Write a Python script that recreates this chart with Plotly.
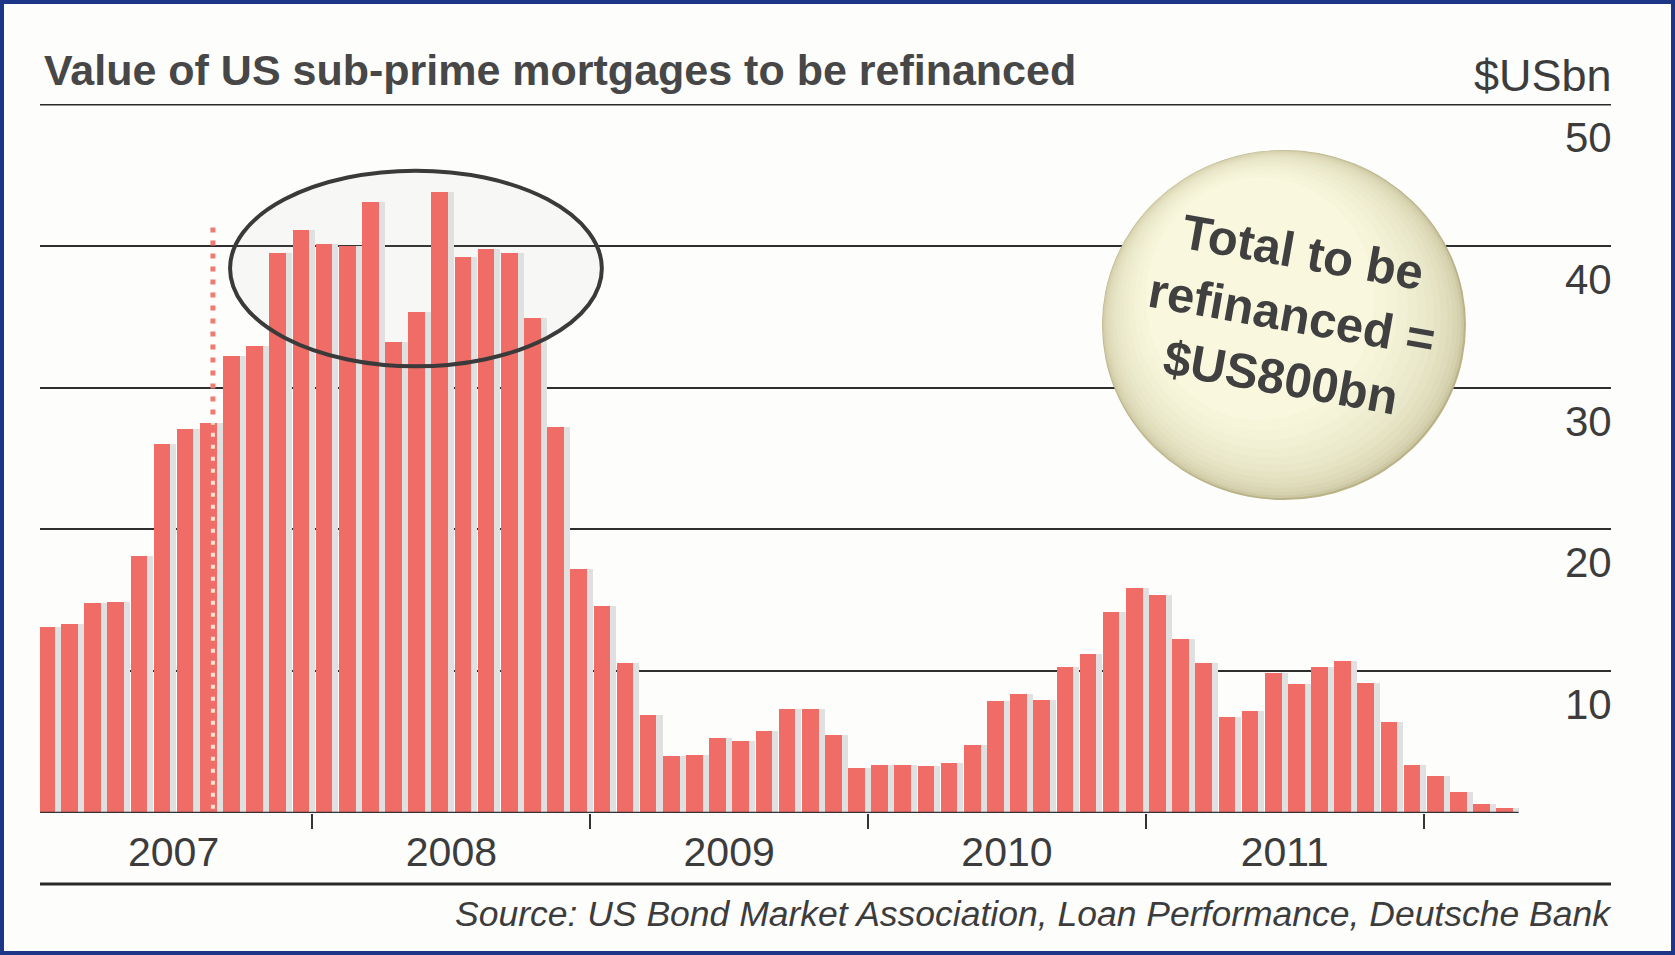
import plotly.graph_objects as go

# monthly values, $US bn (Jan 2007 - Apr 2012)
values_2007 = [13.1, 13.3, 14.8, 14.9, 18.1, 26.0, 27.1, 27.5, 32.2, 32.9, 39.5, 41.1]
values_2008 = [40.1, 40.0, 43.1, 33.2, 35.3, 43.8, 39.2, 39.8, 39.5, 34.9, 27.2, 17.2]
values_2009 = [14.6, 10.6, 6.9, 4.0, 4.1, 5.3, 5.1, 5.75, 7.3, 7.3, 5.5, 3.2]
values_2010 = [3.4, 3.4, 3.3, 3.5, 4.8, 7.9, 8.4, 8.0, 10.3, 11.2, 14.2, 15.9]
values_2011 = [15.4, 12.3, 10.6, 6.8, 7.2, 9.9, 9.1, 10.3, 10.7, 9.2, 6.4, 3.4]
values_2012 = [2.6, 1.5, 0.6, 0.35]
monthly = values_2007 + values_2008 + values_2009 + values_2010 + values_2011 + values_2012

years = ['2007', '2008', '2009', '2010', '2011']
y_ticks = [10, 20, 30, 40, 50]

title_text = 'Value of US sub-prime mortgages to be refinanced'
unit_text = '$USbn'
source_text = 'Source: US Bond Market Association, Loan Performance, Deutsche Bank'
badge_text = 'Total to be<br>refinanced =<br>$US800bn'

# page geometry
W, H = 1675, 955
L, R, T, B = 40, 64, 104, 142
PW, PH = W - L - R, H - T - B
step = 23.15  # px per month
x_lo = -0.27
x_hi = x_lo + PW / step

FONT = 'Liberation Sans, Arial, sans-serif'
INK = '#3c3c3c'
BAR = '#f06c66'


def pxx(x):
    return (x - L) / PW


def pyy(y):
    return (H - B - y) / PH


xs = list(range(len(monthly)))
year_centers = [i * 12 + 5.5 for i in range(len(years))]
year_bounds = [i * 12 + 11.5 for i in range(len(years))]

fig = go.Figure()
# halftone shadow to the right of each bar
fig.add_trace(go.Bar(x=xs, y=monthly, width=0.72, offset=-0.36 + 0.26,
                     marker=dict(color='#e0e0e0', line_width=0), hoverinfo='skip'))
fig.add_trace(go.Bar(x=xs, y=monthly, width=0.72, offset=-0.36,
                     marker=dict(color=BAR, line_width=0)))

shapes = []
# top rule and bottom rule
shapes.append(dict(type='line', xref='paper', yref='y', x0=0, x1=1, y0=50, y1=50,
                   line=dict(color='#2a2a2a', width=3)))
shapes.append(dict(type='line', xref='paper', yref='paper', x0=0, x1=1, y0=pyy(884), y1=pyy(884),
                   line=dict(color='#2a2a2a', width=3)))
# baseline under bars
shapes.append(dict(type='line', xref='x', yref='y', x0=x_lo, x1=len(monthly) - 0.4, y0=0, y1=0,
                   line=dict(color='#333333', width=2.5), layer='above'))
# hand-drawn ellipse around the 2007-08 peak
shapes.append(dict(type='circle', xref='x', yref='y', x0=7.94, x1=24.0, y0=31.5, y1=45.3,
                   fillcolor='rgba(170,170,170,0.07)', line_width=0, layer='between'))
shapes.append(dict(type='circle', xref='x', yref='y', x0=7.94, x1=24.0, y0=31.5, y1=45.3,
                   line=dict(color='#3a3a3a', width=4), layer='above'))
# dotted marker line through Aug 2007
dot_x = 7.2
shapes.append(dict(type='line', xref='x', yref='y', x0=dot_x, x1=dot_x, y0=0.3, y1=monthly[7],
                   line=dict(color='#fbe3cf', width=4, dash='4px,8px'), layer='above'))
shapes.append(dict(type='line', xref='x', yref='y', x0=dot_x, x1=dot_x, y0=monthly[7] + 0.6, y1=41.4,
                   line=dict(color='#f07b70', width=5, dash='5px,8px'), layer='above'))

# badge: stacked discs to fake a radial shading
rim = (186, 179, 136)
core = (249, 248, 222)
n = 14
for i in range(n):
    t = i / (n - 1)
    col = tuple(int(rim[k] + (core[k] - rim[k]) * (t ** 0.45)) for k in range(3))
    x0 = 1102 + 4 * t + 40 * t * t
    x1 = 1466 - 22 * t - 70 * t * t
    y0 = 150 + 2 * t + 25 * t * t
    y1 = 500 - 20 * t - 60 * t * t
    shapes.append(dict(type='circle', xref='paper', yref='paper',
                       x0=pxx(x0), x1=pxx(x1), y0=pyy(y1), y1=pyy(y0),
                       fillcolor='rgb(%d,%d,%d)' % col, line_width=0, layer='above'))

# blue frame of the slide
shapes.append(dict(type='rect', xref='paper', yref='paper',
                   x0=pxx(2), x1=pxx(W - 2), y0=pyy(H - 2), y1=pyy(2),
                   line=dict(color='#1d3688', width=4), layer='above'))

annotations = []
annotations.append(dict(text=title_text, xref='paper', yref='paper', x=pxx(42), y=pyy(70),
                        xanchor='left', yanchor='middle', showarrow=False,
                        font=dict(family=FONT, size=43, color='#474747', weight='bold')))
annotations.append(dict(text=unit_text, xref='paper', yref='paper', x=1.002, y=pyy(75),
                        xanchor='right', yanchor='middle', showarrow=False,
                        font=dict(family=FONT, size=45, color=INK)))
for v in y_ticks:
    annotations.append(dict(text=str(v), xref='paper', yref='y', x=1.002, y=v,
                            xanchor='right', yanchor='top', yshift=-8, showarrow=False,
                            font=dict(family=FONT, size=42, color=INK)))
annotations.append(dict(text=source_text, xref='paper', yref='paper', x=1.002, y=pyy(914),
                        xanchor='right', yanchor='middle', showarrow=False,
                        font=dict(family=FONT, size=35.5, color=INK, style='italic')))
annotations.append(dict(text=badge_text, xref='paper', yref='paper', x=pxx(1292), y=pyy(314),
                        xanchor='center', yanchor='middle', showarrow=False, textangle=10,
                        font=dict(family=FONT, size=49, color='#404040', weight='bold')))

fig.update_layout(
    width=W, height=H,
    margin=dict(l=L, r=R, t=T, b=B, pad=0),
    paper_bgcolor='#fdfdfc', plot_bgcolor='#fdfdfc',
    barmode='overlay', bargap=0, showlegend=False,
    shapes=shapes, annotations=annotations,
    xaxis=dict(range=[x_lo, x_hi], tickmode='array', tickvals=year_centers, ticktext=years,
               ticks='', showgrid=False, zeroline=False, showline=False,
               tickfont=dict(family=FONT, size=41, color=INK), ticklabelstandoff=11,
               minor=dict(tickmode='array', tickvals=year_bounds, ticks='outside', ticklen=15,
                          tickwidth=2, tickcolor='#333333', showgrid=False)),
    yaxis=dict(range=[0, 50], tickvals=y_ticks[:-1], showticklabels=False, ticks='',
               showgrid=True, gridcolor='#2e2e2e', gridwidth=2, zeroline=False, showline=False),
)

fig.write_html('out.html', config={'displayModeBar': False},
               post_script="document.body.style.margin='0px';")
